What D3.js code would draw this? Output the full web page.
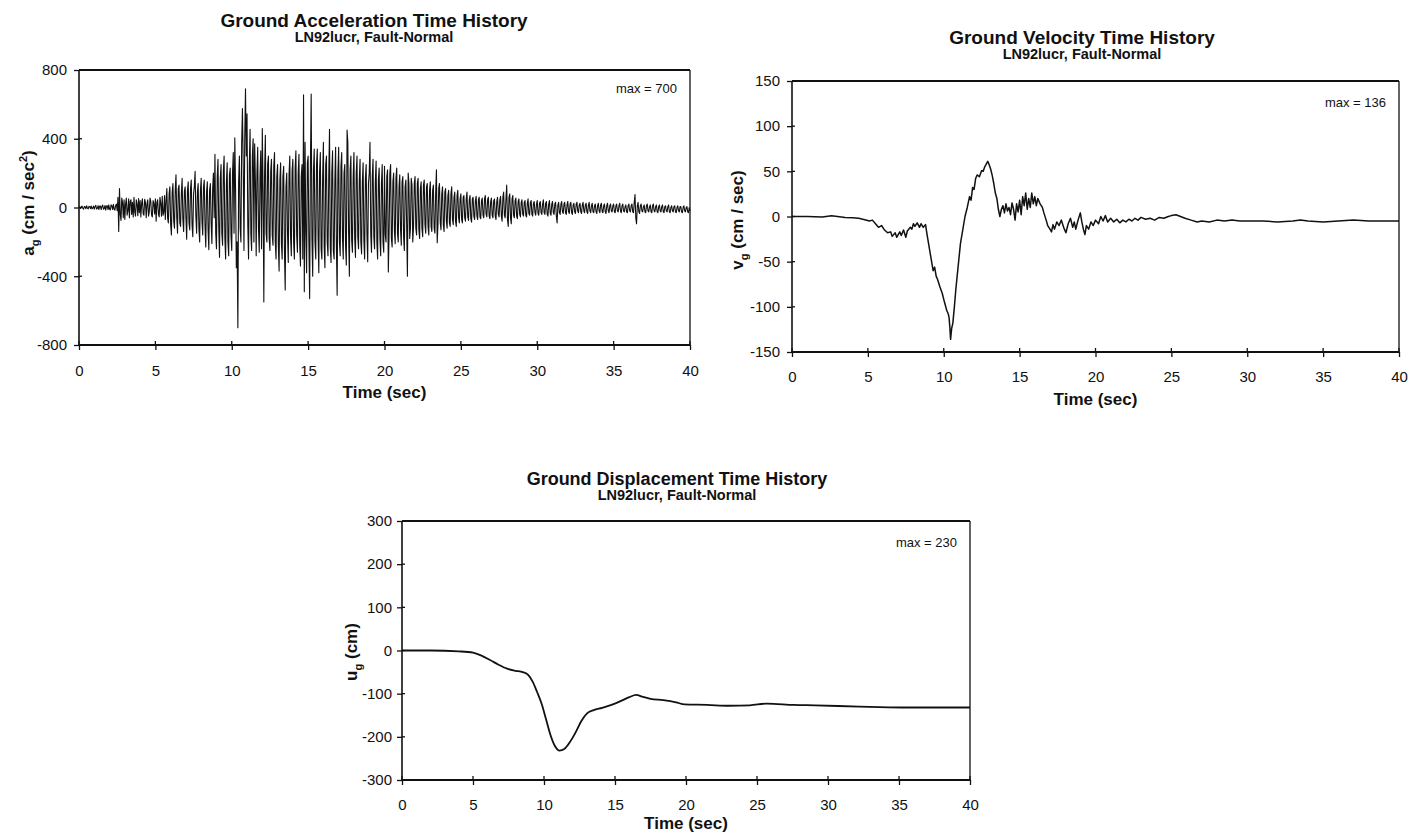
<!DOCTYPE html>
<html lang="en">
<head>
<meta charset="utf-8">
<title>LN92lucr Fault-Normal Time Histories</title>
<script src="https://d3js.org/d3.v7.min.js"></script>
<style>
  body { margin: 0; background: #fff; }
  svg text { font-family: "Liberation Sans", Arial, sans-serif; fill: #111; }
</style>
</head>
<body>
<script>
// time axis shared by all three plots
var timeTicks = [0, 5, 10, 15, 20, 25, 30, 35, 40];

// ground acceleration (cm/sec^2), sampled every accStep seconds (one row = one second)
var accStep = 0.05;
var accValues = [
  0, 4, -6, 3, 8, -5, -9, 6, 4, -7, 10, -4, -8, 7, 5, -6, 9, -8, -3, 8,
  -10, 6, 12, -9, -5, 11, -12, 7, 9, -13, 6, 14, -10, -6, 12, -15, 8, 10, -12, 15,
  -9, -14, 16, 10, -12, 18, -8, -16, 12, 20, -18, 60, -140, 110, -40, -75, 55, 30, -60, 45,
  -70, 20, 55, -45, -20, 50, -60, 35, 45, -40, 30, -55, 60, -25, -50, 45, 20, -48, 52, -30,
  40, -55, 25, 50, -35, -45, 48, 30, -60, 20, 45, -50, -25, 55, 35, -42, -55, 40, 25, -38,
  50, -80, 30, 45, -40, -55, 60, 25, -50, 65, -45, -30, 70, -70, 40, 110, -60, -90, 80, 120,
  -100, -160, 90, 140, -80, -120, 100, 190, -60, -150, 110, 130, -90, -110, 80, 170, -70, -140, 95, 120,
  -60, -185, 100, 150, -90, -130, 110, 160, -100, -170, 80, 120, 210, -50, -150, 90, 140, -120, -200, 100,
  170, -80, -160, 120, 160, -110, -230, 90, 150, -130, -245, 100, 140, -90, -210, 110, 200, -60, 310, -150,
  -240, 180, 280, -120, -290, 170, 250, -150, -220, 210, 300, -180, -300, 140, 260, -200, -280, 190, 230, -160,
  -250, 200, 320, -150, 405, 100, -350, -200, -700, 150, 300, -120, -200, 380, 575, 250, -250, 400, 690, 300,
  545, -100, -300, 250, 455, -150, -250, 300, 400, -200, 370, 150, -280, 200, 350, -120, -260, 180, 330, -240,
  460, 100, -550, 200, 420, -150, -200, 250, 300, -180, -250, 210, 280, -160, -220, 240, 320, -200, -300, 180,
  250, -220, -370, 160, 260, -210, -300, 180, 240, -250, -480, 120, 200, -150, -320, 190, 300, -170, -280, 210,
  280, -200, -300, 230, 330, -160, -260, 200, 310, -220, -340, 180, 250, -300, 655, -490, 380, -150, -380, 260,
  300, -200, -530, 250, 660, -180, -400, 220, 340, -200, -300, 250, 340, -160, -380, 210, 320, -240, -300, 180,
  380, -220, -350, 250, 300, -200, -280, 180, 455, -230, -320, 200, 330, -250, -300, 160, 350, -220, -510, 200,
  350, -200, -280, 240, 320, -180, -300, 200, 250, -220, -335, 450, 380, -150, -400, 220, 300, -190, -260, 180,
  320, -180, -290, 200, 300, -170, -240, 160, 280, -200, -270, 150, 260, -190, -300, 170, 250, -150, -315, 140,
  200, 380, -160, -260, 180, 280, -170, -240, 150, 270, -200, -300, 160, 230, -180, -280, 140, 250, -200, -260,
  240, -160, -200, 180, 220, -375, -150, 200, 250, -180, -230, 150, 200, -140, -210, 170, 230, -150, -200, 120,
  190, -130, -220, 150, 180, -170, -250, 120, 160, -100, -400, 200, 140, -180, -120, 170, 130, -200, -110, 140,
  180, -120, -160, 140, 170, -130, -180, 110, 150, -120, -170, 130, 160, -100, -150, 120, 140, -110, -160, 100,
  150, -110, -140, 100, 130, -120, -150, 90, 220, -205, -100, 110, 140, -90, -130, 80, 120, -100, -140, 90,
  110, -80, -120, 70, 100, -90, -110, 80, 120, -70, -100, 60, 90, -80, -110, 70, 100, -60, -90, 50,
  80, -70, -90, 60, 70, -60, -80, 50, 90, -55, -75, 45, 70, -65, -85, 50, 60, -50, -70, 40,
  65, -50, -70, 45, 60, -55, -65, 40, 55, -45, -60, 50, 70, -40, -55, 45, 60, -50, -65, 35,
  55, -45, -60, 40, 50, -50, -70, 35, 60, -40, -55, 45, 65, -50, -80, 60, 90, -45, -60, 50,
  130, -70, -110, 60, 80, -60, -95, 50, 70, -45, -60, 40, 55, -50, -65, 35, 50, -40, -55, 30,
  45, -40, -50, 30, 40, -45, -55, 25, 50, -35, -45, 30, 40, -40, -50, 25, 35, -30, -45, 20,
  40, -35, -45, 25, 35, -30, -40, 20, 45, -30, -40, 25, 35, -40, -50, 20, 40, -35, -45, 20,
  35, -30, -40, 20, 30, -50, -90, 15, 30, -30, -40, 20, 35, -25, -35, 20, 30, -30, -40, 15,
  35, -25, -35, 20, 30, -30, -40, 15, 25, -25, -35, 20, 30, -20, -30, 15, 25, -25, -35, 15,
  30, -20, -30, 15, 25, -25, -35, 15, 30, -20, -30, 10, 25, -25, -30, 10, 20, -25, -35, 10,
  25, -20, -30, 15, 25, -25, -30, 10, 20, -25, -35, 10, 25, -20, -30, 10, 20, -20, -25, 10,
  20, -25, -30, 10, 20, -20, -25, 10, 25, -20, -30, 10, 20, -20, -25, 5, 15, -25, -30, 10,
  20, -20, -25, 10, 20, -25, -30, 30, 75, -60, -95, 10, 30, -25, -35, 10, 20, -20, -25, 5,
  15, -25, -30, 10, 20, -20, -25, 5, 15, -25, -30, 10, 20, -20, -25, 5, 15, -25, -30, 5,
  15, -20, -25, 5, 15, -25, -30, 5, 10, -20, -25, 5, 15, -25, -30, 0, 10, -20, -25, 5,
  10, -25, -30, 0, 10, -20, -25, 5, 5, -25, -30, 0, 10, -20, -25, 0, 5, -25, -30, 0,
  -20
];
var accTicks = [-800, -400, 0, 400, 800];

// ground velocity (cm/sec)
var velTime = [0, 1, 2, 2.6, 3, 3.5, 4, 4.4, 4.8, 5.1, 5.3, 5.5, 5.7, 5.9, 6.1, 6.3, 6.5, 6.6, 6.8, 6.9,
  7.1, 7.2, 7.35, 7.5, 7.6, 7.8, 7.9, 8, 8.1, 8.25, 8.4, 8.5, 8.65, 8.8, 8.9, 9, 9.15, 9.3, 9.4, 9.5,
  9.6, 9.75, 9.9, 10.05, 10.2, 10.3, 10.35, 10.4, 10.45, 10.52, 10.6, 10.7, 10.8, 10.95, 11.1, 11.25, 11.4, 11.55, 11.7, 11.8,
  11.9, 12, 12.1, 12.2, 12.35, 12.5, 12.6, 12.7, 12.8, 12.9, 13, 13.1, 13.2, 13.3, 13.4, 13.5, 13.6, 13.7, 13.8, 13.9,
  14, 14.1, 14.2, 14.3, 14.4, 14.5, 14.6, 14.7, 14.8, 14.9, 15, 15.1, 15.2, 15.3, 15.4, 15.5, 15.6, 15.7, 15.8, 15.9,
  16, 16.1, 16.2, 16.35, 16.5, 16.6, 16.75, 16.85, 17, 17.1, 17.2, 17.3, 17.45, 17.6, 17.75, 17.9, 18.05, 18.2, 18.35, 18.5,
  18.6, 18.7, 18.85, 19, 19.1, 19.2, 19.3, 19.4, 19.55, 19.7, 19.85, 20, 20.2, 20.35, 20.5, 20.65, 20.8, 21, 21.2, 21.4,
  21.6, 21.8, 22, 22.2, 22.4, 22.6, 22.8, 23, 23.3, 23.6, 23.9, 24.2, 24.5, 24.8, 25, 25.3, 25.6, 25.9, 26.3, 26.7,
  27, 27.5, 28, 28.5, 29, 29.5, 30, 31, 32, 33, 33.5, 34, 35, 36, 37, 38, 39, 40];
var velValues = [0, 0, -0.5, 0.8, 0, -1, -1.5, -2, -3.5, -5, -4, -8, -12, -10, -15, -18, -17, -22, -18, -23,
  -17, -21, -15, -23, -16, -12, -14, -8, -11, -7, -12, -8, -12, -9, -20, -30, -45, -60, -56, -66,
  -70, -78, -85, -95, -104, -108, -112, -122, -136, -124, -118, -100, -80, -55, -30, -15, 0, 10, 22, 18,
  32, 30, 42, 46, 44, 51, 50, 55, 58, 61, 57, 52, 45, 36, 26, 20, 8, 0, 8, 12,
  4, 14, 6, 10, 2, 15, 8, -4, 14, 5, 18, 2, 22, 12, 26, 8, 20, 10, 26, 14,
  22, 12, 20, 14, 10, 4, -4, -10, -14, -17, -9, -14, -6, -10, -4, -12, -18, -8, -2, -12,
  -6, -14, -4, 4, -6, -14, -20, -10, -14, -6, -10, -4, -8, 0, -5, 1, -6, -2, -6, -3,
  -7, -4, -6, -3, -5, -2, -4, -1, -3, -2, -4, -1, -2, 0, 1, 2, 0, -2, -4, -6,
  -5, -6, -4, -5, -4, -5, -5, -5, -6, -5, -4, -5, -6, -5, -4, -5, -5, -5];
var velTicks = [-150, -100, -50, 0, 50, 100, 150];

// ground displacement (cm)
var dispTime = [0, 2, 4, 5, 5.6, 6.2, 6.8, 7.4, 8, 8.5, 8.9, 9.2, 9.5, 9.85, 10.15, 10.45, 10.75, 11.1, 11.4, 11.7,
  12, 12.3, 12.6, 13.05, 13.5, 14.1, 14.75, 15.35, 16, 16.5, 16.9, 17.5, 18.4, 19.3, 19.9, 21.5, 23, 24.5, 25.7, 27.6,
  29.1, 32.2, 35.2, 40];
var dispValues = [0, 0, -2, -5, -12, -22, -33, -42, -47, -50, -57, -72, -95, -125, -160, -195, -220, -232, -229, -218,
  -203, -185, -165, -145, -138, -133, -126, -118, -108, -103, -107, -112, -115, -120, -125, -126, -128, -127, -123, -126,
  -127, -130, -132, -132];
var dispTicks = [-300, -200, -100, 0, 100, 200, 300];

var width = 1414;
var height = 833;

var svg = d3.select("body").append("svg")
    .attr("width", width)
    .attr("height", height);

// plain hyphen minus, like the original spreadsheet output
var tickFmt = function(d) { return String(d); };

function drawChart(c) {
  var g = svg.append("g");

  var x = d3.scaleLinear().domain([0, 40]).range([c.left, c.right]);
  var y = d3.scaleLinear().domain(c.yDomain).range([c.bottom, c.top]);

  // titles
  g.append("text")
      .attr("x", c.titleX).attr("y", c.titleY)
      .attr("text-anchor", "middle")
      .style("font-size", c.titleSize + "px").style("font-weight", "bold")
      .text(c.title);
  g.append("text")
      .attr("x", c.titleX).attr("y", c.titleY + 15)
      .attr("text-anchor", "middle")
      .style("font-size", "14.5px").style("font-weight", "bold")
      .text("LN92lucr, Fault-Normal");

  // axes (ticks cross the frame, so draw the outer part with d3.axis and add inner stubs)
  var xAxis = g.append("g")
      .attr("transform", "translate(0," + c.bottom + ")")
      .call(d3.axisBottom(x).tickValues(timeTicks).tickSize(5).tickPadding(c.xPad).tickFormat(tickFmt));
  var yAxis = g.append("g")
      .attr("transform", "translate(" + c.left + ",0)")
      .call(d3.axisLeft(y).tickValues(c.yTicks).tickSize(5).tickPadding(c.yPad).tickFormat(tickFmt));
  [xAxis, yAxis].forEach(function(a) {
    a.select(".domain").remove();
    a.selectAll("line").attr("stroke", "#111").attr("stroke-width", 1.3);
    a.selectAll("text").style("font-size", "15px").attr("fill", "#111");
  });

  g.selectAll(".xin").data(timeTicks).enter().append("line")
      .attr("x1", function(d) { return x(d); }).attr("x2", function(d) { return x(d); })
      .attr("y1", c.bottom).attr("y2", c.bottom - 4)
      .attr("stroke", "#111").attr("stroke-width", 1.3);
  g.selectAll(".yin").data(c.yTicks).enter().append("line")
      .attr("x1", c.left).attr("x2", c.left + 3)
      .attr("y1", function(d) { return y(d); }).attr("y2", function(d) { return y(d); })
      .attr("stroke", "#111").attr("stroke-width", 1.3);

  // data line
  var line = d3.line()
      .x(function(d) { return x(d[0]); })
      .y(function(d) { return y(d[1]); });
  if (c.curve) line.curve(c.curve);
  g.append("path")
      .datum(c.points)
      .attr("fill", "none")
      .attr("stroke", "#111")
      .attr("stroke-width", c.lineWidth)
      .attr("stroke-linejoin", "round")
      .attr("d", line);

  // frame
  g.append("line").attr("x1", c.left).attr("x2", c.right).attr("y1", c.top).attr("y2", c.top)
      .attr("stroke", "#111").attr("stroke-width", 2);
  g.append("line").attr("x1", c.left).attr("x2", c.right).attr("y1", c.bottom).attr("y2", c.bottom)
      .attr("stroke", "#111").attr("stroke-width", 2);
  g.append("line").attr("x1", c.left).attr("x2", c.left).attr("y1", c.top).attr("y2", c.bottom)
      .attr("stroke", "#111").attr("stroke-width", 1.6);
  g.append("line").attr("x1", c.right).attr("x2", c.right).attr("y1", c.top).attr("y2", c.bottom)
      .attr("stroke", "#111").attr("stroke-width", 1.3);

  // max note
  g.append("text")
      .attr("x", c.right - 13).attr("y", c.top + c.maxDy)
      .attr("text-anchor", "end")
      .style("font-size", "13px")
      .text(c.maxText);

  // axis titles
  g.append("text")
      .attr("x", (c.left + c.right) / 2).attr("y", c.xLabelY)
      .attr("text-anchor", "middle")
      .style("font-size", "17px").style("font-weight", "bold")
      .text("Time (sec)");

  var yl = g.append("text")
      .attr("transform", "translate(" + c.yLabelX + "," + c.yLabelY + ") rotate(-90)")
      .attr("text-anchor", "middle")
      .style("font-size", "17px").style("font-weight", "bold");
  yl.append("tspan").text(c.yLabel[0]);
  yl.append("tspan").attr("dy", 5).style("font-size", "11px").text("g");
  yl.append("tspan").attr("dy", -5).text(c.yLabel[1]);
  if (c.yLabel.length > 2) {
    yl.append("tspan").attr("dy", -7).style("font-size", "11px").text(c.yLabel[2]);
    yl.append("tspan").attr("dy", 7).text(c.yLabel[3]);
  }
}

drawChart({
  title: "Ground Acceleration Time History", titleSize: 19, titleX: 374, titleY: 27,
  left: 79, right: 690, top: 70, bottom: 345, xPad: 15, yPad: 7, xLabelY: 398,
  yDomain: [-800, 800], yTicks: accTicks,
  points: accValues.map(function(v, i) { return [i * accStep, v]; }),
  lineWidth: 1.1, maxText: "max = 700", maxDy: 23,
  yLabel: ["a", " (cm / sec", "2", ")"], yLabelX: 34, yLabelY: 203
});

drawChart({
  title: "Ground Velocity Time History", titleSize: 19, titleX: 1082, titleY: 44,
  left: 792, right: 1399, top: 81, bottom: 352, xPad: 14, yPad: 7, xLabelY: 405,
  yDomain: [-150, 150], yTicks: velTicks,
  points: velTime.map(function(t, i) { return [t, velValues[i]]; }),
  lineWidth: 1.5, maxText: "max = 136", maxDy: 26,
  yLabel: ["v", " (cm / sec)"], yLabelX: 743, yLabelY: 220
});

drawChart({
  title: "Ground Displacement Time History", titleSize: 18, titleX: 677, titleY: 485,
  left: 402, right: 970, top: 521, bottom: 780, xPad: 14, yPad: 5, xLabelY: 829,
  yDomain: [-300, 300], yTicks: dispTicks,
  points: dispTime.map(function(t, i) { return [t, dispValues[i]]; }),
  lineWidth: 1.8, curve: d3.curveMonotoneX, maxText: "max = 230", maxDy: 26,
  yLabel: ["u", " (cm)"], yLabelX: 357, yLabelY: 652
});
</script>
</body>
</html>
